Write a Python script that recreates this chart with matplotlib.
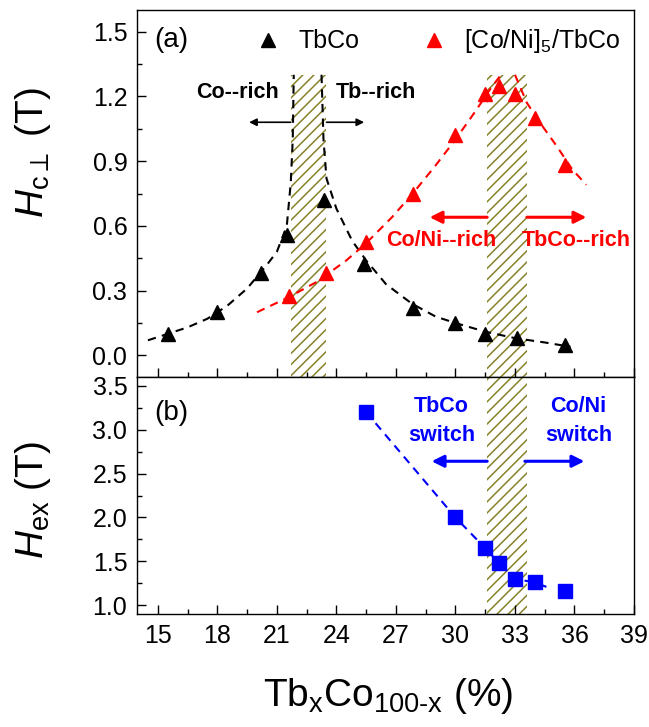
import numpy as np
import matplotlib
matplotlib.use("Agg")
import matplotlib.pyplot as plt
from matplotlib.ticker import MultipleLocator

plt.rcParams['font.family'] = ['Liberation Sans', 'DejaVu Sans']
plt.rcParams['mathtext.fontset'] = 'custom'
plt.rcParams['mathtext.rm'] = 'Liberation Sans'
plt.rcParams['mathtext.it'] = 'Liberation Sans:italic'
plt.rcParams['mathtext.bf'] = 'Liberation Sans:bold'
plt.rcParams['hatch.linewidth'] = 1.1

nan = np.nan

# ---- data (panel a) ----
tbco_x = [15.5, 18.0, 20.2, 21.5, 23.4, 25.4, 27.85, 30.0, 31.5, 33.1, 35.5]
tbco_y = [0.10, 0.20, 0.38, 0.556, 0.72, 0.425, 0.218, 0.149, 0.10, 0.079, 0.046]

coni_x = [21.6, 23.5, 25.5, 27.85, 30.0, 31.5, 32.2, 33.0, 34.0, 35.5]
coni_y = [0.274, 0.38, 0.525, 0.75, 1.02, 1.21, 1.25, 1.21, 1.10, 0.88]

black_fit_x = [14.5, 15.5, 16.5, 17.5, 18.5, 19.5, 20.5, 21.0, 21.5, 21.7, 21.8, 21.85, nan,
               23.25, 23.35, 23.5, 24.0, 24.8, 25.5, 26.5, 27.8, 29.0, 30.0, 31.5, 33.0, 34.5, 35.8]
black_fit_y = [0.07, 0.10, 0.13, 0.17, 0.23, 0.31, 0.42, 0.48, 0.60, 0.80, 1.00, 1.30, nan,
               1.30, 1.00, 0.82, 0.68, 0.53, 0.44, 0.33, 0.24, 0.18, 0.15, 0.11, 0.08, 0.06, 0.04]

red_fit_x = [20.0, 21.6, 23.0, 24.5, 25.5, 26.8, 27.85, 29.0, 30.0, 31.0, 31.8, 32.3, nan,
             33.0, 33.6, 34.4, 35.1, 35.9, 36.6]
red_fit_y = [0.20, 0.27, 0.34, 0.44, 0.52, 0.64, 0.75, 0.88, 1.00, 1.13, 1.24, 1.30, nan,
             1.30, 1.17, 1.06, 0.97, 0.86, 0.79]

# ---- data (panel b) ----
hex_x = [25.5, 30.0, 31.5, 32.2, 33.0, 34.0, 35.5]
hex_y = [3.20, 2.00, 1.65, 1.48, 1.30, 1.27, 1.16]
blue_fit_x = [25.5, 30.0, 31.5, 32.2, 33.0, 34.0, 34.8]
blue_fit_y = [3.20, 2.00, 1.65, 1.48, 1.30, 1.26, 1.19]

# hatched regions
band1 = (21.7, 23.5)
band2 = (31.6, 33.6)
band_top_a = 1.3

x_ticks = [15, 18, 21, 24, 27, 30, 33, 36, 39]
ya_ticks = [0.0, 0.3, 0.6, 0.9, 1.2, 1.5]
yb_ticks = [1.0, 1.5, 2.0, 2.5, 3.0, 3.5]

fig = plt.figure(figsize=(6.49, 7.27), dpi=100)
L, R = 137 / 649, 634 / 649
axa = fig.add_axes([L, 1 - 377 / 727, R - L, (377 - 10) / 727])
axb = fig.add_axes([L, 1 - 614 / 727, R - L, (614 - 377) / 727], sharex=axa)

hcol = '#86822a'
dash = (0, (4, 3))

# panel a
axa.fill_between(band1, [-0.1, -0.1], [band_top_a, band_top_a], facecolor='none',
                 edgecolor=hcol, hatch='///', linewidth=0, zorder=1)
axa.fill_between(band2, [-0.1, -0.1], [band_top_a, band_top_a], facecolor='none',
                 edgecolor=hcol, hatch='///', linewidth=0, zorder=1)
axa.plot(black_fit_x, black_fit_y, color='black', lw=1.5, ls=dash, zorder=2)
axa.plot(red_fit_x, red_fit_y, color='red', lw=1.5, ls=dash, zorder=2)
axa.plot(tbco_x, tbco_y, ls='none', marker='^', ms=10, color='black', label='TbCo', zorder=3)
axa.plot(coni_x, coni_y, ls='none', marker='^', ms=10, color='red',
         label=r'[Co/Ni]$_5$/TbCo', zorder=3)

axa.set_ylim(-0.1, 1.6)
axa.set_xlim(13.95, 39)
axa.set_yticks(ya_ticks)
axa.yaxis.set_minor_locator(MultipleLocator(0.15))
axa.xaxis.set_minor_locator(MultipleLocator(1.5))
axa.set_ylabel(r'$H_{\mathrm{c}\perp}$ (T)', fontsize=28)
axa.yaxis.set_label_coords(-0.17, 0.612)

axa.text(0.035, 0.955, '(a)', transform=axa.transAxes, fontsize=20, ha='left', va='top')
axa.legend(loc='upper right', ncol=2, frameon=False, fontsize=18, handletextpad=0.6,
           columnspacing=2.4, borderaxespad=0.0, handlelength=1.2, borderpad=0.55,
           bbox_to_anchor=(1.0, 0.99))

bold = dict(fontsize=15.5, fontweight='bold', ha='center', va='center')
axa.text(19.03, 1.22, 'Co--rich', color='black', **bold)
axa.text(25.98, 1.22, 'Tb--rich', color='black', **bold)
axa.text(29.3, 0.534, 'Co/Ni--rich', color='red', **bold)
axa.text(36.1, 0.534, 'TbCo--rich', color='red', **bold)

blk_arrow = dict(arrowstyle='-|>', color='black', lw=1.2, mutation_scale=11, shrinkA=0, shrinkB=0)
axa.annotate('', xy=(19.6, 1.08), xytext=(21.7, 1.08), arrowprops=blk_arrow)
axa.annotate('', xy=(25.4, 1.08), xytext=(23.5, 1.08), arrowprops=blk_arrow)
red_arrow = dict(arrowstyle='-|>', color='red', lw=2.2, mutation_scale=18, shrinkA=0, shrinkB=0)
axa.annotate('', xy=(28.7, 0.64), xytext=(31.6, 0.64), arrowprops=red_arrow)
axa.annotate('', xy=(36.6, 0.64), xytext=(33.6, 0.64), arrowprops=red_arrow)

# panel b
axb.fill_between(band2, [0.9, 0.9], [3.6, 3.6], facecolor='none',
                 edgecolor=hcol, hatch='///', linewidth=0, zorder=1)
axb.plot(blue_fit_x, blue_fit_y, color='blue', lw=1.5, ls=dash, zorder=2)
axb.plot(hex_x, hex_y, ls='none', marker='s', ms=10, color='blue', zorder=3)
axb.set_ylim(0.9, 3.6)
axb.set_yticks(yb_ticks)
axb.yaxis.set_minor_locator(MultipleLocator(0.25))
axb.set_xticks(x_ticks)
axb.set_ylabel(r'$H_{\mathrm{ex}}$ (T)', fontsize=28)
axb.yaxis.set_label_coords(-0.17, 0.48)
axb.set_xlabel('Tb$_{\\mathrm{x}}$Co$_{\\mathrm{100\u2010x}}$ (%)', fontsize=28)
axb.xaxis.set_label_coords(0.505, -0.26)

axb.text(0.035, 0.85, '(b)', transform=axb.transAxes, fontsize=20, ha='left', va='center')
bbold = dict(fontsize=15.5, fontweight='bold', ha='center', va='center', color='blue',
             linespacing=1.5)
axb.text(29.3, 3.1, 'TbCo\nswitch', **bbold)
axb.text(36.2, 3.1, 'Co/Ni\nswitch', **bbold)
blu_arrow = dict(arrowstyle='-|>', color='blue', lw=2.2, mutation_scale=18, shrinkA=0, shrinkB=0)
axb.annotate('', xy=(28.8, 2.64), xytext=(31.6, 2.64), arrowprops=blu_arrow)
axb.annotate('', xy=(36.5, 2.64), xytext=(33.5, 2.64), arrowprops=blu_arrow)

for ax in (axa, axb):
    ax.tick_params(which='both', direction='in', labelsize=18, top=False, right=False,
                   width=1.0, pad=7)
    ax.tick_params(which='major', length=6.5)
    ax.tick_params(which='minor', length=3.5)
    for s in ax.spines.values():
        s.set_linewidth(1.0)
axa.tick_params(labelbottom=False)

fig.savefig('out.png', dpi=100)
